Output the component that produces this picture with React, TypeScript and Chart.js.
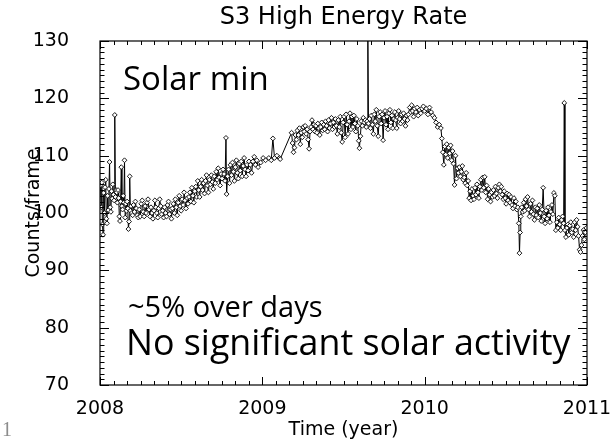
import React, { useEffect, useRef } from "react";
import { Chart, registerables } from "chart.js";

Chart.register(...registerables);

// ---- data (decimal year, counts/frame) ----
const t2008a = [
  2008.003, 2008.007, 2008.011, 2008.015, 2008.019, 2008.023, 2008.027, 2008.031, 2008.035, 2008.039,
  2008.043, 2008.047, 2008.051, 2008.055, 2008.059, 2008.063, 2008.067, 2008.071, 2008.075, 2008.079,
  2008.083, 2008.087, 2008.091, 2008.095, 2008.099, 2008.103, 2008.107, 2008.111, 2008.115, 2008.119,
  2008.123, 2008.127, 2008.131, 2008.135, 2008.139, 2008.143, 2008.147, 2008.151, 2008.155, 2008.159,
  2008.163, 2008.167, 2008.171, 2008.175, 2008.179, 2008.183, 2008.187, 2008.191, 2008.196, 2008.201,
  2008.206, 2008.212,
];
const v2008a = [
  104.8, 101.0, 105.3, 98.0, 96.2, 103.5, 100.0, 104.5, 105.8, 99.0,
  98.2, 103.0, 100.5, 104.2, 108.9, 101.0, 100.2, 103.8, 102.5, 105.0,
  103.2, 102.2, 117.1, 102.8, 104.0, 103.6, 101.8, 104.0, 102.6, 99.4,
  98.6, 102.0, 108.0, 101.2, 100.6, 103.0, 101.8, 109.2, 99.2, 101.6,
  100.4, 102.0, 100.8, 97.2, 98.5, 106.4, 100.4, 101.2, 100.0, 99.6,
  101.4, 100.2,
];

const t2008b = [
  2008.218, 2008.224, 2008.230, 2008.236, 2008.242, 2008.248, 2008.254, 2008.260, 2008.266, 2008.272,
  2008.278, 2008.284, 2008.290, 2008.296, 2008.302, 2008.308, 2008.314, 2008.320, 2008.326, 2008.332,
  2008.338, 2008.344, 2008.350, 2008.356, 2008.362, 2008.368, 2008.374, 2008.380, 2008.386, 2008.392,
  2008.398, 2008.404, 2008.410, 2008.416, 2008.422, 2008.428, 2008.434, 2008.440, 2008.446,
];
const v2008b = [
  102.0, 100.8, 99.6, 99.2, 100.6, 99.4, 101.6, 102.2, 100.2, 99.4,
  101.2, 100.0, 101.8, 102.4, 100.6, 99.4, 101.0, 100.0, 99.0, 100.4,
  102.2, 101.0, 100.0, 99.2, 100.8, 102.4, 101.2, 99.8, 100.4, 99.2,
  101.0, 100.0, 99.4, 101.4, 102.0, 99.8, 100.6, 99.0, 100.8,
];

const t2008c = [
  2008.452, 2008.458, 2008.464, 2008.470, 2008.476, 2008.482, 2008.488, 2008.494, 2008.500, 2008.506,
  2008.512, 2008.518, 2008.524, 2008.530, 2008.536, 2008.542, 2008.548, 2008.554, 2008.560, 2008.566,
  2008.572, 2008.578, 2008.584, 2008.590, 2008.596, 2008.602, 2008.608, 2008.614, 2008.620, 2008.626,
  2008.632, 2008.638, 2008.644, 2008.650, 2008.656, 2008.662, 2008.668, 2008.674, 2008.680, 2008.686,
  2008.692, 2008.698, 2008.704, 2008.710, 2008.716, 2008.722, 2008.728, 2008.734, 2008.740, 2008.746,
  2008.752, 2008.758, 2008.764, 2008.770,
  2008.776, 2008.780,
  2008.786, 2008.792, 2008.798, 2008.804, 2008.810, 2008.816, 2008.822, 2008.828, 2008.834, 2008.840,
  2008.846, 2008.852, 2008.858, 2008.864, 2008.870, 2008.876, 2008.882, 2008.888, 2008.894, 2008.900,
  2008.906, 2008.912, 2008.918,
  2008.926, 2008.934, 2008.942, 2008.950, 2008.958, 2008.966, 2008.974, 2008.990, 2009.005, 2009.020,
  2009.040, 2009.055, 2009.065, 2009.075, 2009.090, 2009.105, 2009.110,
];
const v2008c = [
  101.6, 100.0, 102.4, 101.0, 99.6, 101.8, 103.0, 101.2, 100.4, 102.4,
  101.4, 103.6, 102.2, 100.8, 102.6, 101.6, 102.8, 103.6, 102.0,
  104.4, 103.0, 101.8, 103.8, 104.6, 102.8, 105.6, 104.0, 102.8, 104.6,
  105.8, 104.0, 105.2, 103.4, 105.6, 106.6, 104.8, 103.6, 105.8, 105.0,
  106.6, 105.4, 104.2, 106.4, 105.2, 107.2, 105.8, 107.8, 106.2, 104.8,
  106.8, 106.0, 107.6, 106.8, 105.6,
  113.1, 103.3,
  106.4, 107.6, 105.2, 108.4, 106.6, 108.8, 107.2, 105.6, 108.0, 109.2,
  107.0, 106.0, 108.6, 107.4, 109.0, 106.4, 108.2, 109.6, 107.6, 106.4,
  108.4, 107.4, 109.0,
  108.4, 107.0, 109.0, 109.8, 108.4, 109.2, 108.0, 108.8, 109.6, 109.2,
  109.6, 109.2, 113.0, 109.6, 110.0, 109.6, 109.4,
];

const t2009 = [
  2009.180, 2009.186, 2009.192, 2009.198, 2009.204, 2009.210, 2009.216, 2009.222, 2009.228, 2009.234,
  2009.240, 2009.246, 2009.252, 2009.258, 2009.264, 2009.270, 2009.276, 2009.282, 2009.288, 2009.294,
  2009.300, 2009.306, 2009.312, 2009.318, 2009.324, 2009.330, 2009.336, 2009.342, 2009.348, 2009.354,
  2009.360, 2009.366, 2009.372, 2009.378, 2009.384, 2009.390, 2009.396, 2009.402, 2009.408, 2009.414,
  2009.420, 2009.426, 2009.432, 2009.438, 2009.444, 2009.450, 2009.456, 2009.462, 2009.468, 2009.474,
  2009.480, 2009.486, 2009.492, 2009.498, 2009.504, 2009.510, 2009.516, 2009.522, 2009.528, 2009.534,
  2009.540, 2009.546, 2009.552, 2009.558, 2009.564, 2009.570, 2009.576, 2009.582, 2009.588, 2009.594,
  2009.598,
  2009.604, 2009.610, 2009.616, 2009.622, 2009.628, 2009.634, 2009.640, 2009.646,
  2009.650,
  2009.654, 2009.660, 2009.666, 2009.672, 2009.678, 2009.684, 2009.690, 2009.696, 2009.702, 2009.708,
  2009.714, 2009.720, 2009.726, 2009.732, 2009.738, 2009.744, 2009.750, 2009.756, 2009.762, 2009.768,
  2009.774, 2009.780, 2009.786, 2009.792, 2009.798, 2009.804, 2009.810, 2009.816, 2009.822, 2009.828,
  2009.834, 2009.840, 2009.846, 2009.852, 2009.858, 2009.864, 2009.870, 2009.876, 2009.882, 2009.888,
  2009.894, 2009.900,
  2009.908, 2009.914, 2009.920, 2009.926, 2009.932, 2009.938, 2009.946, 2009.954, 2009.960, 2009.968,
  2009.976, 2009.984, 2009.992, 2010.000, 2010.010, 2010.020, 2010.030, 2010.040, 2010.050, 2010.060,
  2010.070, 2010.080,
];
const v2009 = [
  114.0, 112.2, 110.6, 111.4, 113.6, 112.8, 114.4, 113.6, 114.8, 112.0,
  114.0, 113.2, 115.0, 114.2, 115.2, 113.8, 114.6, 112.8, 111.2, 114.2,
  115.0, 116.2, 114.6, 115.4, 114.2, 115.2, 114.0, 115.6, 114.8, 113.6,
  115.0, 115.8, 114.4, 115.4, 114.6, 116.0, 115.2, 114.2, 116.2, 114.8,
  115.6, 116.6, 114.6, 115.8, 115.0, 116.4, 115.2, 113.8, 116.2, 115.0,
  116.8, 114.0, 112.4, 115.8, 116.8, 113.2, 117.2, 115.4, 113.8, 116.0,
  117.4, 114.6, 116.8, 115.0, 117.0, 115.6, 114.2, 116.4, 115.2, 112.6,
  111.3,
  113.4, 116.0, 115.2, 116.6, 115.8, 116.2, 115.0, 116.0,
  131.0,
  115.6, 116.4, 114.8, 117.0, 115.4, 113.8, 117.2, 116.0, 118.0, 115.2,
  113.4, 116.8, 117.6, 115.6, 117.2, 112.7, 116.6, 117.8, 115.4, 116.8,
  114.6, 117.4, 118.0, 115.8, 117.0, 114.8, 116.4, 117.6, 116.2, 114.8,
  116.6, 117.8, 116.4, 115.6, 117.2, 116.0, 117.4, 116.4, 115.2, 117.0,
  116.2, 117.2,
  118.4, 117.6, 118.8, 117.8, 116.8, 118.2, 117.6, 118.4, 117.0, 118.0,
  117.4, 118.2, 118.6, 117.8, 118.2, 117.2, 118.4, 117.6, 117.0, 116.6,
  115.8, 115.0,
];

const t2010 = [
  2010.090, 2010.100,
  2010.106, 2010.112, 2010.118, 2010.124, 2010.130, 2010.136, 2010.142, 2010.148, 2010.154, 2010.160,
  2010.166, 2010.172, 2010.178, 2010.184, 2010.190, 2010.196, 2010.202, 2010.208, 2010.214, 2010.220,
  2010.226, 2010.232, 2010.238, 2010.244, 2010.250, 2010.256, 2010.262, 2010.268, 2010.274, 2010.280,
  2010.286, 2010.292, 2010.298, 2010.304, 2010.310, 2010.316, 2010.322, 2010.328, 2010.334, 2010.340,
  2010.346, 2010.352, 2010.358, 2010.364, 2010.370, 2010.376, 2010.382, 2010.388, 2010.394, 2010.400,
  2010.406, 2010.412, 2010.418, 2010.424, 2010.430, 2010.436, 2010.442, 2010.448, 2010.454, 2010.460,
  2010.466, 2010.472, 2010.478, 2010.484, 2010.490, 2010.496, 2010.502, 2010.508, 2010.514, 2010.520,
  2010.526, 2010.532, 2010.538, 2010.544, 2010.550, 2010.556, 2010.562, 2010.568, 2010.574,
  2010.580, 2010.584, 2010.588, 2010.592,
  2010.598, 2010.604, 2010.610, 2010.616, 2010.622, 2010.628, 2010.634, 2010.640, 2010.646, 2010.652,
  2010.658, 2010.664, 2010.670, 2010.676, 2010.682, 2010.688, 2010.694, 2010.700, 2010.706, 2010.712,
  2010.718, 2010.724, 2010.730, 2010.736, 2010.742, 2010.748, 2010.754, 2010.760, 2010.766, 2010.772,
  2010.778, 2010.784, 2010.790, 2010.796, 2010.802, 2010.808, 2010.814, 2010.820, 2010.826, 2010.832,
  2010.838, 2010.844, 2010.850, 2010.856,
  2010.860,
  2010.864, 2010.870, 2010.876, 2010.882, 2010.888, 2010.894, 2010.900, 2010.906, 2010.912, 2010.918,
  2010.924, 2010.930, 2010.936, 2010.942, 2010.948, 2010.954, 2010.960, 2010.966, 2010.972, 2010.978,
  2010.984, 2010.990, 2010.996,
];
const v2010 = [
  115.4, 114.8,
  113.0, 110.6, 108.4, 111.6, 110.2, 112.0, 109.6, 111.4, 110.4, 111.8,
  109.2, 110.8, 108.6, 104.9, 110.0, 106.0, 107.8, 107.0, 108.0, 106.4,
  107.2, 108.2, 105.8, 106.2, 105.2, 107.0, 104.8, 105.6, 102.6, 103.8,
  102.2, 104.2, 103.0, 102.4, 104.4, 103.2, 105.0, 103.6, 102.6, 104.6,
  105.8, 104.0, 106.2, 104.4, 106.3, 103.6, 104.8, 102.4, 104.2, 103.2,
  102.0, 103.6, 102.8, 104.0, 103.0, 104.6, 103.4, 102.6, 104.4, 105.0,
  103.8, 104.6, 103.2, 102.4, 103.8, 102.6, 101.6, 103.4, 102.2, 103.2,
  101.8, 102.8, 101.4, 100.8, 102.6, 101.2, 102.0, 100.6, 101.0,
  98.2, 93.0, 96.6, 99.4,
  101.0, 100.2, 101.8, 100.4, 102.4, 101.2, 102.8, 100.6, 99.4, 101.6,
  100.2, 102.2, 99.8, 98.8, 101.0, 99.6, 100.8, 99.2, 101.4, 100.0,
  98.6, 100.6, 104.4, 99.4, 98.2, 100.4, 99.0, 101.0, 99.6, 98.4,
  100.2, 101.4, 99.8, 103.5, 103.0, 97.0, 98.4, 97.4, 99.2, 98.0,
  97.0, 98.8, 99.4, 98.2,
  119.2,
  97.0, 95.8, 97.4, 98.0, 96.2, 97.8, 98.4, 96.6, 97.2, 95.8,
  98.4, 97.0, 98.8, 97.6, 96.0, 93.6, 93.2, 94.4, 96.0, 97.0,
  95.4, 96.6, 97.4,
];

const years = [...t2008a, ...t2008b, ...t2008c, ...t2009, ...t2010];
const counts = [...v2008a, ...v2008b, ...v2008c, ...v2009, ...v2010];

const yearTicks = [2008, 2009, 2010, 2011];
const chartTitle = "S3 High Energy Rate";
const xTitle = "Time (year)";
const yTitle = "Counts/frame";
const noteTop = "Solar min";
const noteLines = ["~5% over days", "No significant solar activity"];
const slideNumber = "1";

const AXIS_FONT = "DejaVu Sans";
const NOTE_FONT = "Open Sans";

export default function App() {
  const ref = useRef<HTMLCanvasElement | null>(null);

  useEffect(() => {
    if (!ref.current) return;

    const framePlugin = {
      id: "idlFrame",
      afterDraw(chart: any) {
        const { ctx, chartArea: a, scales } = chart;
        const xs = scales.x;
        const ys = scales.y;
        ctx.save();
        // frame with inward IDL-style ticks
        ctx.strokeStyle = "#000";
        ctx.lineWidth = 1.2;
        ctx.strokeRect(a.left, a.top, a.right - a.left, a.bottom - a.top);
        ctx.lineWidth = 1;
        ctx.beginPath();
        const y0 = yearTicks[0];
        const yN = yearTicks[yearTicks.length - 1];
        for (let m = 0; m <= (yN - y0) * 12; m++) {
          const px = Math.round(xs.getPixelForValue(y0 + m / 12)) + 0.5;
          const len = m % 12 === 0 ? 8 : 4;
          ctx.moveTo(px, a.bottom);
          ctx.lineTo(px, a.bottom - len);
          ctx.moveTo(px, a.top);
          ctx.lineTo(px, a.top + len);
        }
        for (let v = 70; v <= 130; v++) {
          const py = Math.round(ys.getPixelForValue(v)) + 0.5;
          const len = v % 10 === 0 ? 9 : 4.5;
          ctx.moveTo(a.left, py);
          ctx.lineTo(a.left + len, py);
          ctx.moveTo(a.right, py);
          ctx.lineTo(a.right - len, py);
        }
        ctx.stroke();

        // texts
        ctx.fillStyle = "#000";
        ctx.textBaseline = "alphabetic";
        ctx.textAlign = "center";
        ctx.font = `24px "${AXIS_FONT}"`;
        ctx.fillText(chartTitle, (a.left + a.right) / 2, 24);

        ctx.textAlign = "left";
        ctx.font = `33px "${NOTE_FONT}"`;
        ctx.fillText(noteTop, 123, 90);
        ctx.font = `29px "${NOTE_FONT}"`;
        ctx.fillText(noteLines[0], 128, 317);
        ctx.font = `35.8px "${NOTE_FONT}"`;
        ctx.fillText(noteLines[1], 126, 355);

        ctx.fillStyle = "#8c8c8c";
        ctx.font = `20px "Liberation Serif"`;
        ctx.fillText(slideNumber, 2, 436);
        ctx.restore();
      },
    };

    const chart = new Chart(ref.current, {
      type: "line",
      data: {
        datasets: [
          {
            data: years.map((x, i) => ({ x, y: counts[i] })),
            borderColor: "#000",
            borderWidth: 1,
            pointStyle: "rectRot",
            pointRadius: 2.4,
            pointBackgroundColor: "#fff",
            pointBorderColor: "#000",
            pointBorderWidth: 0.9,
            tension: 0,
          },
        ],
      },
      options: {
        animation: false,
        responsive: false,
        devicePixelRatio: 1,
        layout: { padding: { left: 0, right: 27, top: 41, bottom: 0 } },
        plugins: {
          legend: { display: false },
          tooltip: { enabled: false },
          title: { display: false },
        },
        scales: {
          x: {
            type: "linear",
            min: 2008,
            max: 2011,
            grid: { display: false },
            border: { display: false },
            afterBuildTicks: (scale: any) => {
              scale.ticks = yearTicks.map((v) => ({ value: v }));
            },
            ticks: {
              color: "#000",
              padding: 5,
              maxRotation: 0,
              font: { family: AXIS_FONT, size: 19 },
              callback: (v: any) => String(v),
            },
            title: {
              display: true,
              text: xTitle,
              color: "#000",
              font: { family: AXIS_FONT, size: 19, lineHeight: 1 },
              padding: { top: 0, bottom: 5 },
            },
            afterFit: (scale: any) => {
              scale.height = 60;
              scale.paddingLeft = 0;
              scale.paddingRight = 0;
            },
          },
          y: {
            type: "linear",
            min: 70,
            max: 130,
            grid: { display: false },
            border: { display: false },
            ticks: {
              color: "#000",
              stepSize: 10,
              padding: 23,
              font: { family: AXIS_FONT, size: 19 },
            },
            title: {
              display: true,
              text: yTitle,
              color: "#000",
              font: { family: AXIS_FONT, size: 19, lineHeight: 1 },
              padding: { top: 25, bottom: 0 },
            },
            afterFit: (scale: any) => {
              scale.width = 100;
              scale.paddingTop = 0;
              scale.paddingBottom = 0;
            },
          },
        },
      },
      plugins: [framePlugin],
    });

    return () => chart.destroy();
  }, []);

  return (
    <canvas
      ref={ref}
      width={614}
      height={445}
      style={{ position: "absolute", left: 0, top: 0, width: 614, height: 445 }}
    />
  );
}
